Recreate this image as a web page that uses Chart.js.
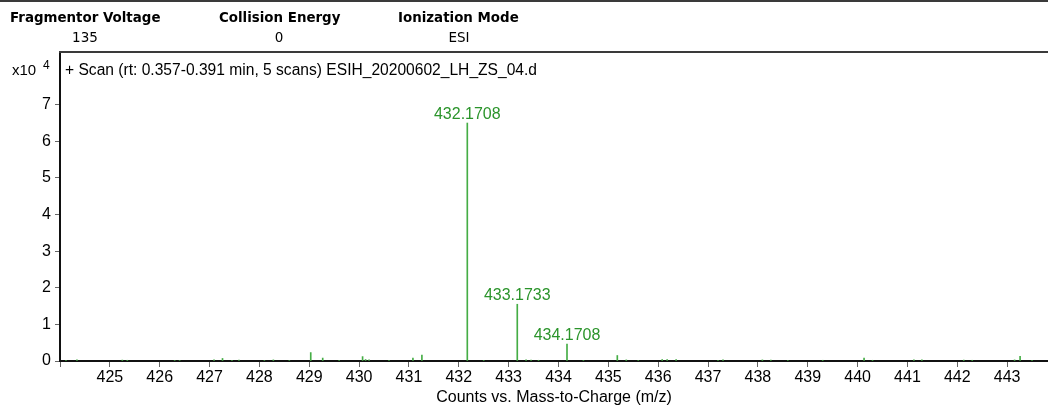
<!DOCTYPE html>
<html>
<head>
<meta charset="utf-8">
<style>
  html, body { margin: 0; padding: 0; background: #fff; }
  #wrap { width: 1048px; height: 407px; position: relative; }
</style>
<script src="https://cdn.jsdelivr.net/npm/chart.js@4.4.1/dist/chart.umd.min.js"></script>
</head>
<body>
<div id="wrap"><canvas id="c" width="1048" height="407"></canvas></div>
<script>
// ---- data ----
const mzValues = [424.12, 424.34, 425.25, 425.35, 426.30, 426.40, 427.09, 427.26, 427.45, 427.59,
  428.10, 428.28, 428.60, 429.03, 429.27, 429.60, 430.07, 430.13, 430.20, 430.60,
  431.08, 431.26, 432.1708, 432.50, 433.1733, 433.35, 433.45, 433.60, 434.1708, 434.50,
  435.18, 435.36, 435.60, 436.08, 436.18, 436.36, 437.20, 437.30, 438.09, 438.26,
  438.60, 439.30, 440.13, 440.30, 441.13, 441.29, 442.13, 442.30, 443.15, 443.26, 443.50];
const counts = [200, 300, 250, 200, 150, 150, 300, 700, 150, 250,
  150, 300, 150, 2300, 800, 150, 1200, 400, 300, 150,
  800, 1600, 65000, 150, 15500, 300, 250, 200, 4600, 150,
  1500, 300, 150, 400, 400, 400, 200, 300, 300, 250,
  150, 200, 800, 200, 350, 350, 250, 200, 300, 1300, 150];
const peakLabels = ['432.1708', '433.1733', '434.1708'];
const peakMz = [432.1708, 433.1733, 434.1708];
const peakCounts = [65000, 15500, 4600];
const xTickValues = [424, 425, 426, 427, 428, 429, 430, 431, 432, 433, 434, 435, 436, 437, 438, 439, 440, 441, 442, 443];
const yTickValues = [0, 10000, 20000, 30000, 40000, 50000, 60000, 70000];
const yTickLabels = ['0', '1', '2', '3', '4', '5', '6', '7'];
const headerTitles = ['Fragmentor Voltage', 'Collision Energy', 'Ionization Mode'];
const headerValues = ['135', '0', 'ESI'];
const scanText = '+ Scan (rt: 0.357-0.391 min, 5 scans) ESIH_20200602_LH_ZS_04.d';
const xAxisTitle = 'Counts vs. Mass-to-Charge (m/z)';

const SANS = '"Liberation Sans", Arial, sans-serif';
const LINE_GREEN = '#45ad45';
const TEXT_GREEN = '#2b942b';

const decor = {
  id: 'decor',
  afterDraw(chart) {
    const ctx = chart.ctx;
    const ca = chart.chartArea;
    ctx.save();
    // top rule
    ctx.strokeStyle = '#3a3a3a';
    ctx.lineWidth = 2;
    ctx.beginPath(); ctx.moveTo(0, 1); ctx.lineTo(1048, 1); ctx.stroke();
    // box top line
    ctx.beginPath(); ctx.moveTo(ca.left - 1, ca.top); ctx.lineTo(1048, ca.top); ctx.stroke();

    // header
    const hx = [[10, 85], [219, 279], [398, 459]];
    ctx.fillStyle = '#000';
    ctx.textBaseline = 'middle';
    for (let i = 0; i < headerTitles.length; i++) {
      ctx.font = 'bold 13.4px "DejaVu Sans", Tahoma, sans-serif';
      ctx.textAlign = 'left';
      ctx.fillText(headerTitles[i], hx[i][0], 19);
      ctx.font = '13.5px "DejaVu Sans", Tahoma, sans-serif';
      ctx.textAlign = 'center';
      ctx.fillText(headerValues[i], hx[i][1], 38);
    }
    // x10^4
    ctx.textAlign = 'left';
    ctx.font = '15px ' + SANS;
    ctx.fillText('x10', 12, 71);
    ctx.font = '12px ' + SANS;
    ctx.fillText('4', 43, 66);
    // scan text
    ctx.font = '15.6px ' + SANS;
    ctx.fillText(scanText, 65, 71);

    // peak labels
    const xs = chart.scales.x, ys = chart.scales.y;
    ctx.fillStyle = TEXT_GREEN;
    ctx.font = '16px ' + SANS;
    ctx.textAlign = 'center';
    ctx.textBaseline = 'alphabetic';
    for (let i = 0; i < peakLabels.length; i++) {
      const px = xs.getPixelForValue(peakMz[i]);
      const py = ys.getPixelForValue(peakCounts[i]);
      ctx.fillText(peakLabels[i], px, py - 4);
    }
    ctx.restore();
  }
};

new Chart(document.getElementById('c'), {
  type: 'bar',
  data: {
    datasets: [{
      data: mzValues.map((m, i) => ({ x: m, y: counts[i] })),
      backgroundColor: LINE_GREEN,
      borderWidth: 0,
      barThickness: 1,
    }]
  },
  options: {
    responsive: false,
    animation: false,
    events: [],
    layout: { padding: { top: 52, left: 0, right: 0, bottom: 0 } },
    plugins: { legend: { display: false }, tooltip: { enabled: false } },
    scales: {
      x: {
        type: 'linear',
        offset: false,
        min: 424,
        max: 443.82,
        afterBuildTicks: axis => { axis.ticks = xTickValues.map(v => ({ value: v })); },
        afterFit: s => { s.height = 46; },
        border: { color: '#111', width: 2 },
        grid: { offset: false, drawOnChartArea: false, drawTicks: true, tickLength: 6, tickColor: '#666', tickWidth: 1 },
        ticks: {
          color: '#000',
          font: { family: SANS, size: 16 },
          padding: 1,
          maxRotation: 0,
          autoSkip: false,
          callback: v => (v === xTickValues[0] ? '' : String(v))
        },
        title: {
          display: true,
          text: xAxisTitle,
          color: '#000',
          font: { family: SANS, size: 16 },
          padding: { top: 0, bottom: 0 }
        }
      },
      y: {
        min: 0,
        max: 84400,
        afterBuildTicks: axis => { axis.ticks = yTickValues.map(v => ({ value: v })); },
        afterFit: s => { s.width = 60; },
        border: { color: '#111', width: 2 },
        grid: { drawOnChartArea: false, drawTicks: true, tickLength: 5, tickColor: '#666', tickWidth: 1 },
        ticks: {
          color: '#000',
          font: { family: SANS, size: 16 },
          padding: 4,
          autoSkip: false,
          callback: v => yTickLabels[yTickValues.indexOf(v)]
        }
      }
    }
  },
  plugins: [decor]
});
</script>
</body>
</html>
